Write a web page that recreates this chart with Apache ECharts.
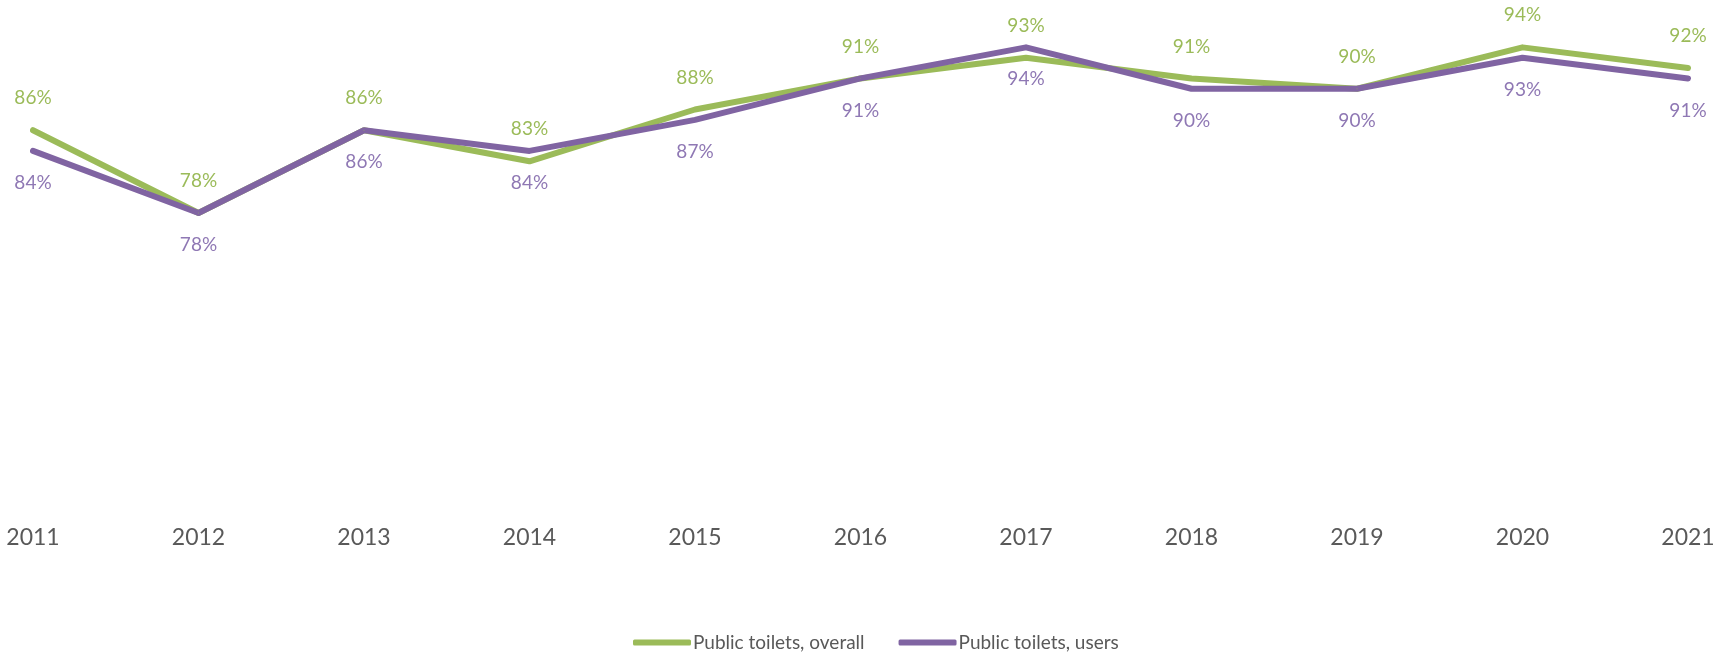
<!DOCTYPE html>
<html>
<head>
<meta charset="utf-8">
<script src="https://cdn.jsdelivr.net/npm/echarts@6/dist/echarts.min.js"></script>
<style>
  html, body { margin: 0; padding: 0; background: #fff; }
  #chart { width: 1731px; height: 654px; }
</style>
</head>
<body>
<div id="chart"></div>
<script>
// Survey years
const years = ['2011', '2012', '2013', '2014', '2015', '2016', '2017', '2018', '2019', '2020', '2021'];
// Satisfaction with public toilets, percent
const overall = [86, 78, 86, 83, 88, 91, 93, 91, 90, 94, 92];
const users = [84, 78, 86, 84, 87, 91, 94, 90, 90, 93, 91];

const seriesNames = ['Public toilets, overall', 'Public toilets, users'];
const GREEN = '#9BBB59';
const PURPLE = '#8064A2';
const FONT = 'Lato, "Open Sans", sans-serif';

function lineSeries(name, data, color, labelColor, pos) {
  return {
    name: name,
    type: 'line',
    data: data,
    symbol: 'circle',
    symbolSize: 1,
    showSymbol: true,
    itemStyle: { color: color },
    lineStyle: { color: color, width: 6, cap: 'round', join: 'round' },
    label: {
      show: true,
      position: pos,
      distance: 22,
      color: labelColor,
      fontSize: 19,
      fontFamily: FONT,
      formatter: p => p.value + '%'
    },
    emphasis: { disabled: true },
    animation: false
  };
}

const chart = echarts.init(document.getElementById('chart'), null, { renderer: 'canvas' });
chart.setOption({
  backgroundColor: '#ffffff',
  animation: false,
  grid: { left: 33, right: 43, top: 37, bottom: 151, containLabel: false },
  legend: {
    data: seriesNames,
    bottom: -3,
    left: 628,
    itemWidth: 58,
    itemHeight: 6,
    itemGap: 34,
    icon: 'roundRect',
    textStyle: { color: '#595959', fontSize: 19, fontFamily: FONT, padding: [0, 0, 0, -3] }
  },
  xAxis: {
    type: 'category',
    data: years,
    boundaryGap: false,
    axisLine: { show: false },
    axisTick: { show: false },
    axisLabel: { color: '#595959', fontSize: 23, fontFamily: FONT, margin: 23 }
  },
  yAxis: {
    type: 'value',
    min: 50,
    max: 95,
    show: false,
    splitLine: { show: false }
  },
  series: [
    lineSeries(seriesNames[0], overall, GREEN, GREEN, 'top'),
    lineSeries(seriesNames[1], users, PURPLE, '#8F78B4', 'bottom')
  ]
});
</script>
</body>
</html>
